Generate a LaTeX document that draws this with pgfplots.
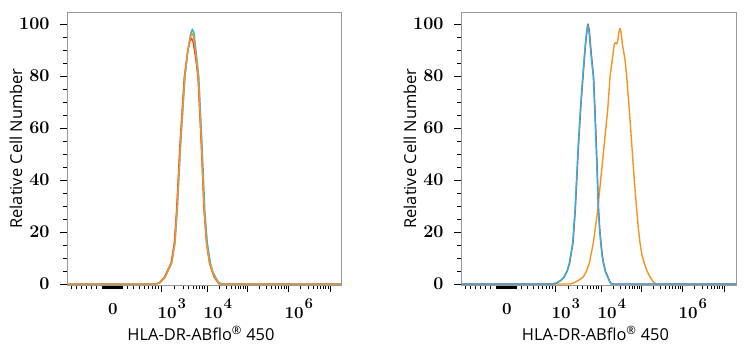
\documentclass[border=0pt]{standalone}
\usepackage{fontspec}
\usepackage{pgfplots}
\pgfplotsset{compat=1.18}
\newfontfamily\lab{Open Sans}
\definecolor{ccyan}{HTML}{2AB4E6}
\definecolor{cred}{HTML}{E8412C}
\definecolor{corange}{HTML}{F7931E}
\newcommand\pw[1]{\makebox[0pt][l]{\hspace{-3.5bp}10\hspace{1bp}\raisebox{10bp}{\fontsize{15}{15}\selectfont #1}}}
\newcommand\zl{\makebox[0pt]{0}\vphantom{\raisebox{10bp}{\fontsize{15}{15}\selectfont 3}}}

\pgfplotstableread{
x y
67 0
156 0
160 0.5
165 2.5
168 5
171.7 8
175 15.8
177.3 28.5
180.7 54
185 79.6
188 90
190.5 96
192.3 98
194 96.5
196.5 88
198.8 79.6
202 54
204.8 28.5
207.3 15.8
210.5 8
213 4.5
215.5 2.7
218 1
221 0
341 0
}\Lcyan
\pgfplotstableread{
x y
67 0
155.5 0
159.5 0.5
164.5 2.7
171 8
174.3 15.8
176.6 28.5
180 54
184.3 79.6
187.5 89
190 93.5
191.5 94.5
193.2 93
196 86
198 79.6
201.2 54
204 28.5
206.5 15.8
209.5 8
214 2.7
219 0
341 0
}\Lred
\pgfplotstableread{
x y
67 0
156 0
160 0.5
165 2.7
171.5 8
174.8 15.8
177 28.5
180.4 54
184.7 79.6
188 90.5
190.5 95
192 96.5
193.7 95
196.2 87
198.3 79.6
201.5 54
204.2 28.5
206.6 15.8
209.7 8
214.5 2.7
219.5 0
341 0
}\Lorange
\pgfplotstableread{
x y
67 0
159 0
163 0.5
167 1.5
170 2.7
173 5
175.3 8
178.7 15.8
181 28.5
184.3 54
186.5 68
188.7 79.6
191 91
192.7 97.5
193.7 99.6
195 97
197 88
199.3 79.6
200.7 67
202 54
203.2 41
204.3 28.5
205.5 21
206.7 15.8
208 11
209.3 8
211.5 4.5
213.7 2.7
215.5 1
217 0
342 0
}\Rcyan
\pgfplotstableread{
x y
67 0
159.3 0
163.3 0.5
167.3 1.5
170.3 2.7
173.3 5
175.6 8
179 15.8
181.3 28.5
184.6 54
186.8 68
189 79.6
191.3 91
193 97.5
194 100
195.3 97.5
197.3 88.5
199.6 79.6
201 67
202.3 54
203.5 41
204.6 28.5
205.8 21
207 15.8
208.3 11
209.6 8
211.8 4.5
214 2.7
215.8 1
217.3 0
342 0
}\Rred
\pgfplotstableread{
x y
67 0
176 0
180 0.5
184 1.3
189.3 2.7
192.5 5
195.3 8
199.3 15.8
203.7 28.5
207 41.3
210.3 54
213.7 67
216 79.6
218.5 87
220.3 92.3
221.5 92.8
222.5 92.3
223.5 93
224.7 96.5
226 98.3
227 97
228.5 92
231 86.2
232.7 79.6
235.3 67
237.7 54
240 41.3
242.7 28.5
244.3 21.5
246 15.8
248 11
250.3 8
253 5
256 2.7
259 1
262 0
342 0
}\Rorange

\pgfplotsset{
  flow/.style={
    scale only axis,
    width=274bp, height=273bp,
    xmin=67, xmax=341, ymin=-0.385, ymax=104.6,
    axis line style={gray!80},
    tick style={black, line width=0.9bp},
    tick align=outside,
    xtick pos=bottom, ytick pos=left,
    major tick length=7bp,
    minor tick length=4bp,
    ytick={0,20,40,60,80,100},
    minor y tick num=3,
    yticklabel style={font=\fontsize{18}{18}\selectfont\bfseries, xshift=-7bp},
    /pgf/number format/assume math mode=true,
    xtick={161,207,247,288,330},
    xticklabels={\pw{3},\pw{4},{},\pw{6},{}},
    xticklabel style={font=\fontsize{17}{17}\selectfont\bfseries, yshift=-3bp},
    minor xtick={71,76,81,86,91,96,
      102,102.7,103.4,104.1,104.8,105.5,106.2,106.9,107.6,108.3,109,109.7,110.4,111.1,111.8,112.5,113.2,113.9,114.6,115.3,116,116.7,117.4,118.1,118.8,119.5,120.2,120.9,121.6,122.3,
      127,133,139,144,148,152,155,158,
      174.8,183,188.7,193.2,196.8,199.9,202.5,204.9,
      219,226.1,231.1,235,238.1,240.8,243.1,245.2,
      259.3,266.6,271.7,275.7,278.9,281.6,284,286.1,
      300.6,308,313.3,317.4,320.7,323.5,325.9,328.1},
    extra x ticks={113},
    extra x tick labels={\zl},
    extra x tick style={major tick length=0pt, xticklabel style={font=\fontsize{17}{17}\selectfont\bfseries, yshift=-3bp}},
    xlabel={\lab\fontsize{16.5}{16.5}\selectfont HLA-DR-ABflo\textsuperscript{®} 450},
    ylabel={\lab\fontsize{16.5}{16.5}\selectfont Relative Cell Number},
    xlabel style={yshift=6bp, xshift=-3bp},
    ylabel style={yshift=-10bp},
    every axis plot/.append style={line width=1.4bp, line join=round},
  }
}

\begin{document}
\begin{tikzpicture}[x=1bp,y=1bp]
\useasboundingbox (0,0) rectangle (748,350);
\begin{axis}[flow, at={(67bp,65bp)}, anchor=south west]
\addplot[no marks, cred] table {\Lred};
\addplot[no marks, ccyan] table {\Lcyan};
\addplot[no marks, corange] table {\Lorange};
\end{axis}
\begin{axis}[flow, at={(461bp,65bp)}, anchor=south west, width=275bp, xmax=342]
\addplot[no marks, corange] table {\Rorange};
\addplot[no marks, cred] table {\Rred};
\addplot[no marks, ccyan] table {\Rcyan};
\end{axis}
\end{tikzpicture}
\end{document}
